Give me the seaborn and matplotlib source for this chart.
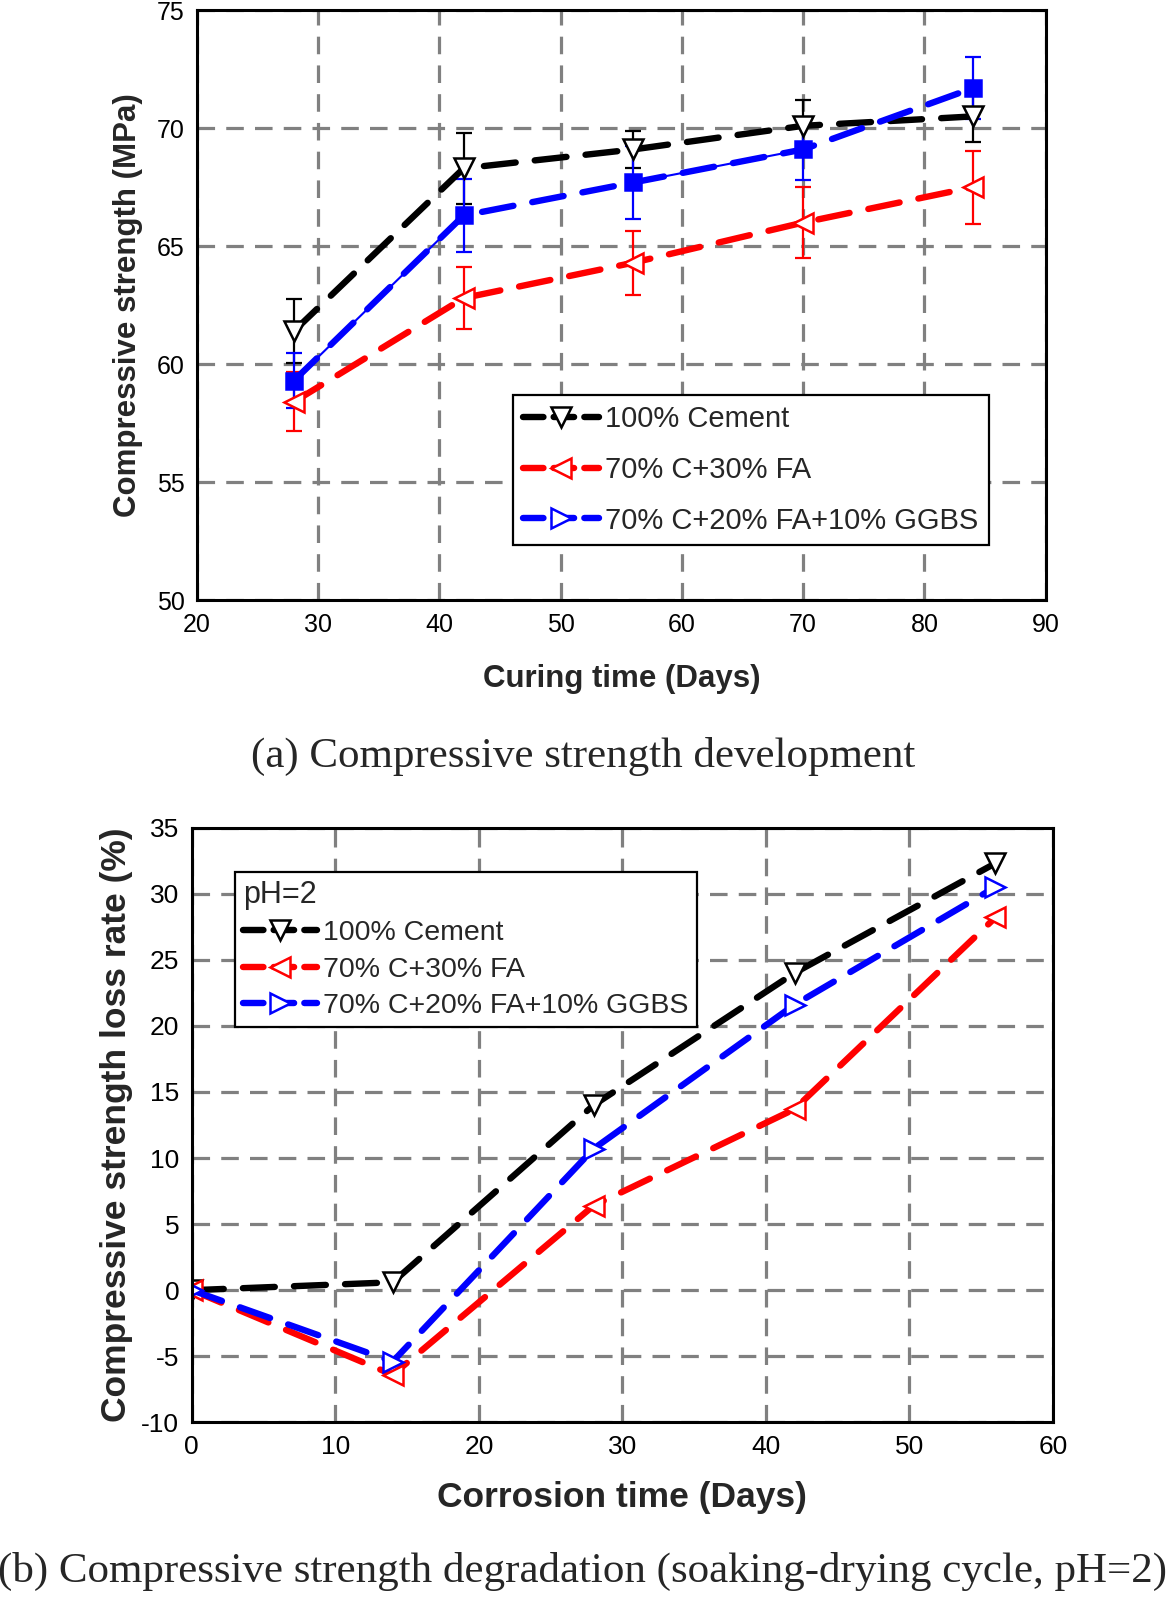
import matplotlib
matplotlib.use("Agg")
import matplotlib.pyplot as plt
from matplotlib.lines import Line2D
from matplotlib.ticker import MultipleLocator
import seaborn as sns
import pandas as pd

# ---- data: (a) compressive strength development ----
dias_a = [28, 42, 56, 70, 84]
cimento_a = [61.4, 68.3, 69.1, 70.1, 70.5]
cimento_a_err = [1.35, 1.5, 0.8, 1.1, 1.1]
fa_a = [58.4, 62.8, 64.3, 66.0, 67.5]
fa_a_err = [1.25, 1.3, 1.35, 1.5, 1.55]
ggbs_a = [59.3, 66.3, 67.7, 69.1, 71.7]
ggbs_a_err = [1.15, 1.55, 1.55, 1.3, 1.3]

# ---- data: (b) strength loss rate, pH=2 ----
dias_b = [0, 14, 28, 42, 56]
cimento_b = [0.0, 0.6, 14.0, 24.0, 32.3]
fa_b = [0.0, -6.4, 6.4, 13.7, 28.2]
ggbs_b = [0.0, -5.4, 10.7, 21.6, 30.5]

rotulos = ['100% Cement', '70% C+30% FA', '70% C+20% FA+10% GGBS']
cores = ['black', 'red', 'blue']
marcadores = ['v', '<', '>']

sns.set_style('white')
plt.rcParams['font.family'] = ['Liberation Sans', 'DejaVu Sans']
plt.rcParams['axes.unicode_minus'] = False

fig = plt.figure(figsize=(11.66, 16), dpi=100)
ax1 = fig.add_axes([0.1689, 0.625, 0.7279, 0.3686])
ax2 = fig.add_axes([0.1645, 0.111, 0.7385, 0.3718])

TRACO = (5.0, 3.0)
LW = 4.6


def estilo_eixo(ax, tamanho_tick):
    for s in ax.spines.values():
        s.set_visible(True)
        s.set_color('black')
        s.set_linewidth(2.2)
    ax.tick_params(which='both', direction='in', colors='black', labelsize=tamanho_tick,
                   top=False, right=False, width=2)
    ax.tick_params(which='major', length=7, pad=9)
    ax.tick_params(which='minor', length=4)
    ax.grid(which='major', color='#808080', linestyle=(0, (5.5, 3.5)), linewidth=2.3)
    ax.set_axisbelow(True)


def linha(ax, x, y, cor, marcador, preenchido=False, ms=14):
    df = pd.DataFrame({'x': x, 'y': y})
    sns.lineplot(data=df, x='x', y='y', ax=ax, color=cor, lw=LW, dashes=False,
                 marker=marcador, markersize=ms,
                 markerfacecolor=cor if preenchido else 'white',
                 markeredgecolor=cor, markeredgewidth=1.8, legend=False)
    ln = ax.get_lines()[-1]
    ln.set_dashes(TRACO)
    ln.set_dash_capstyle('round')


# ---------------- panel (a) ----------------
series_a = [(cimento_a, cimento_a_err), (fa_a, fa_a_err), (ggbs_a, ggbs_a_err)]
for (y, e), cor, mk in zip(series_a, cores, marcadores):
    ax1.errorbar(dias_a, y, yerr=e, fmt='none', ecolor=cor, elinewidth=1.6,
                 capsize=6, capthick=1.6, zorder=2)
for (y, e), cor, mk in zip(series_a, cores, marcadores):
    if cor == 'blue':
        # thin solid connection on some segments, filled squares
        for i0 in (0, 2):
            df_seg = pd.DataFrame({'x': dias_a[i0:i0 + 2], 'y': y[i0:i0 + 2]})
            sns.lineplot(data=df_seg, x='x', y='y', ax=ax1, color=cor, lw=1.5, legend=False)
        linha(ax1, dias_a, y, cor, 's', preenchido=True, ms=12)
    else:
        linha(ax1, dias_a, y, cor, mk)

ax1.set_xlim(20, 90)
ax1.set_ylim(50, 75)
ax1.xaxis.set_major_locator(MultipleLocator(10))
ax1.yaxis.set_major_locator(MultipleLocator(5))
ax1.yaxis.set_minor_locator(MultipleLocator(2.5))
estilo_eixo(ax1, 18)
ax1.set_xlabel('Curing time (Days)', fontsize=22.5, fontweight='bold', labelpad=20)
ax1.set_ylabel('Compressive strength (MPa)', fontsize=22.5, fontweight='bold', labelpad=10)

alcas = [Line2D([], [], color=c, lw=LW, dashes=(3.2, 1.6), dash_capstyle='round', marker=m,
                markersize=14, markerfacecolor='white', markeredgecolor=c, markeredgewidth=1.8)
         for c, m in zip(cores, marcadores)]
leg1 = ax1.legend(alcas, rotulos, loc='upper left', bbox_to_anchor=(0.3726, 0.3478),
                  borderaxespad=0, fontsize=21, handlelength=2.6, handletextpad=0.2,
                  labelspacing=0.78, frameon=True, fancybox=False, framealpha=1,
                  borderpad=0.35)
leg1.get_frame().set_edgecolor('black')
leg1.get_frame().set_linewidth(1.6)

# ---------------- panel (b) ----------------
for y, cor, mk in zip([cimento_b, fa_b, ggbs_b], cores, marcadores):
    linha(ax2, dias_b, y, cor, mk)

ax2.set_xlim(0, 60)
ax2.set_ylim(-10, 35)
ax2.xaxis.set_major_locator(MultipleLocator(10))
ax2.xaxis.set_minor_locator(MultipleLocator(5))
ax2.yaxis.set_major_locator(MultipleLocator(5))
ax2.yaxis.set_minor_locator(MultipleLocator(2.5))
estilo_eixo(ax2, 19)
ax2.set_xlabel('Corrosion time (Days)', fontsize=25.5, fontweight='bold', labelpad=16)
ax2.set_ylabel('Compressive strength loss rate (%)', fontsize=25.5, fontweight='bold', labelpad=6)

leg2 = ax2.legend(alcas, rotulos, title='pH=2', loc='upper left',
                  bbox_to_anchor=(0.0498, 0.926), borderaxespad=0, fontsize=20.5,
                  title_fontsize=22, handlelength=2.6, handletextpad=0.2,
                  labelspacing=0.36, frameon=True, fancybox=False, framealpha=1,
                  borderpad=0.3, alignment='left')
leg2.get_frame().set_edgecolor('black')
leg2.get_frame().set_linewidth(1.6)

# ---------------- captions ----------------
fig.text(0.5, 0.527, '(a) Compressive strength development', ha='center', va='center',
         fontsize=31, family=['Liberation Serif', 'DejaVu Serif'])
fig.text(0.5, 0.018, '(b) Compressive strength degradation (soaking-drying cycle, pH=2)',
         ha='center', va='center', fontsize=31, family=['Liberation Serif', 'DejaVu Serif'])

fig.savefig('out.png', dpi=100)
